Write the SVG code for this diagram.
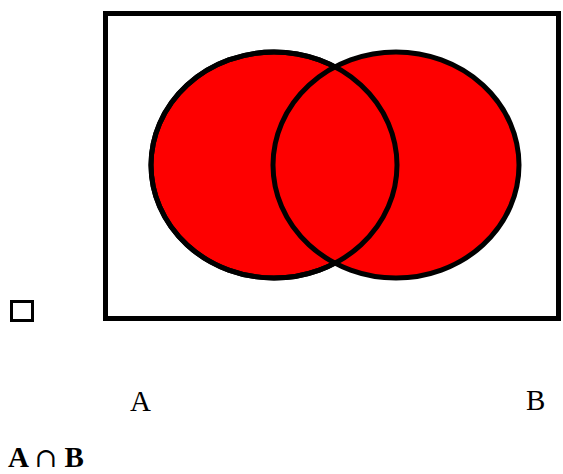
<svg xmlns="http://www.w3.org/2000/svg" width="563" height="474" viewBox="0 0 563 474">
<style>
.set{fill:#fe0000;stroke:#000;stroke-width:5}
.lbl{font-family:"Liberation Serif","Times New Roman",serif;font-size:29px;fill:#000}
</style>
<rect width="563" height="474" fill="#fff"/>
<g id="universe"><rect x="105.5" y="13.5" width="453" height="305" fill="#fff" stroke="#000" stroke-width="5"/></g>
<g id="setA"><ellipse class="set" cx="274" cy="165" rx="123" ry="113"/></g>
<g id="setB"><ellipse class="set" cx="396" cy="165" rx="123" ry="113"/></g>
<g id="overlap"><ellipse cx="274" cy="165" rx="123" ry="113" fill="none" stroke="#000" stroke-width="5"/></g>
<g id="box"><rect x="11.5" y="301.5" width="21" height="19" fill="#fff" stroke="#000" stroke-width="3"/></g>
<g id="labelA"><text class="lbl" x="130" y="411">A</text></g>
<g id="labelB"><text class="lbl" x="526" y="410">B</text></g>
<g id="title"><text class="lbl" x="8" y="467" font-size="28" font-weight="bold">A <tspan font-weight="normal" font-family="DejaVu Serif, serif" font-size="27">∩</tspan> B</text></g>
</svg>
